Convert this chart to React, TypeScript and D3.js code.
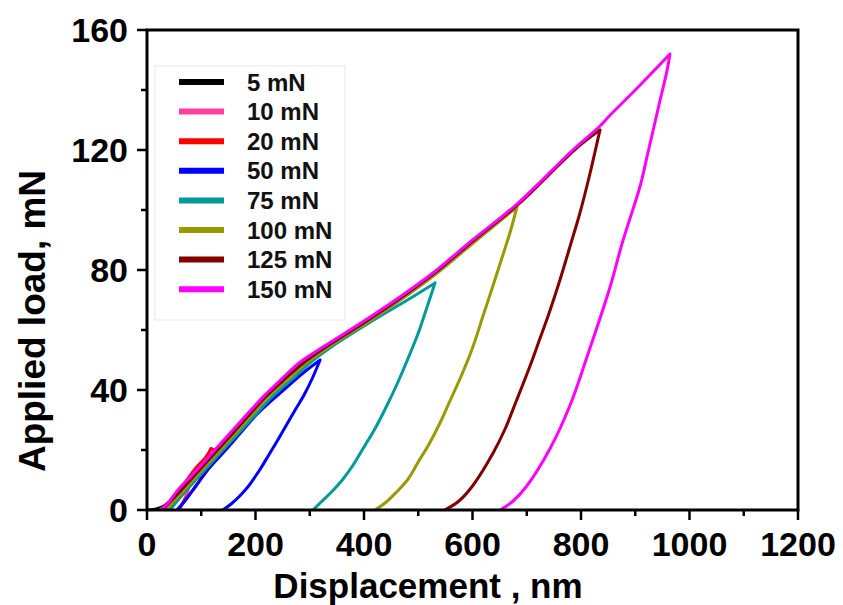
import React from "react";
import * as d3 from "d3";

const X_TICKS = [0, 200, 400, 600, 800, 1000, 1200];
const X_MINOR = [100, 300, 500, 700, 900, 1100];
const Y_TICKS = [0, 40, 80, 120, 160];
const Y_MINOR = [20, 60, 100, 140];

const SERIES_NAMES = ["5 mN", "10 mN", "20 mN", "50 mN", "75 mN", "100 mN", "125 mN", "150 mN"];
const SERIES_COLORS = ["#000000", "#ff3fa0", "#ff0000", "#0000ff", "#009a9a", "#999900", "#800000", "#ff00ff"];

// [displacement nm, load mN] : loading then unloading
const S5: [number, number][] = [[0, 0], [15, 0.3], [30, 1.2], [40, 2.5], [50, 4], [55, 5], [52, 3.5], [47, 1.5], [42, 0]];
const S10: [number, number][] = [[28, 0], [45, 3], [62, 6.5], [80, 10], [77, 7.5], [70, 4], [60, 0]];
const S20: [number, number][] = [[24, 0], [42, 3], [65, 8], [90, 14], [108, 17.5], [118, 20.5], [123, 20], [122, 17], [114, 14], [100, 10.5], [86, 7], [70, 3.5], [58, 0]];
const S50: [number, number][] = [[55, 0], [70, 3], [90, 8], [110, 13], [150, 21], [203, 32], [230, 36.5], [258, 41], [290, 46], [319, 50], [305, 44], [290, 38.5], [272, 33], [256, 28], [240, 23], [225, 18.5], [210, 14], [199, 11], [185, 7.5], [170, 4.5], [155, 2], [140, 0]];
const S75: [number, number][] = [[42, 0], [70, 6], [105, 13], [140, 20], [186, 29], [232, 38], [270, 44], [300, 49], [345, 55], [415, 63], [480, 70], [531, 75.7], [515, 67], [500, 59], [480, 50], [461, 42], [440, 34], [420, 27], [400, 21], [380, 15], [360, 10], [340, 6], [320, 2.5], [306, 0]];
const S100: [number, number][] = [[35, 0], [65, 6], [100, 13], [135, 20], [180, 29], [225, 38], [262, 44], [294, 49], [340, 55], [410, 63], [475, 71], [535, 79], [608, 90], [682, 101], [670, 93], [656, 85], [640, 76], [620, 65], [600, 54], [580, 45], [560, 37], [540, 29], [520, 22], [500, 16], [480, 10], [460, 6], [440, 2.5], [420, 0]];
const S125: [number, number][] = [[28, 0], [60, 6], [95, 13], [130, 20], [175, 29], [220, 38], [256, 44], [288, 49], [335, 55], [405, 63], [470, 71], [530, 79], [603, 90], [685, 102], [788, 120], [835, 126.7], [815, 111], [798, 99], [780, 88], [760, 76], [740, 65], [724, 57], [706, 48], [680, 36], [660, 27], [638, 19], [600, 8], [575, 3], [549, 0]];
const S150: [number, number][] = [[22, 0], [35, 1.5], [57, 6.7], [90, 13], [125, 20], [170, 29], [214, 37.7], [250, 44], [282, 49.3], [330, 55], [400, 63], [466, 71], [527, 79], [600, 90], [682, 102], [785, 120], [835, 128], [853, 131.5], [900, 140], [964, 152], [958, 146], [945, 136], [922, 118], [909, 108], [876, 89], [853, 74], [811, 51], [780, 35], [743, 20.5], [700, 8], [675, 3], [651, 0]];

const SERIES_DATA = [S5, S10, S20, S50, S75, S100, S125, S150];

const FONT = "'Liberation Sans', Arial, Helvetica, sans-serif";

export default function App() {
  const W = 843;
  const H = 605;
  const x = d3.scaleLinear().domain([0, 1200]).range([147, 798]);
  const y = d3.scaleLinear().domain([0, 160]).range([510, 30]);
  const line = d3
    .line<[number, number]>()
    .x((d) => x(d[0]))
    .y((d) => y(d[1]))
    .curve(d3.curveCatmullRom.alpha(0.5));

  const pathFor = (d: [number, number][]) => {
    let k = 0;
    d.forEach((p, i) => {
      if (p[1] > d[k][1]) k = i;
    });
    const loading = d.slice(0, k + 1);
    const unloading = d.slice(k);
    return (line(loading) || "") + (line(unloading) || "");
  };

  const [x0, x1] = x.range();
  const [y0, y1] = y.range();

  return (
    <svg
      width={W}
      height={H}
      viewBox={`0 0 ${W} ${H}`}
      style={{ position: "absolute", left: 0, top: 0, background: "#fff" }}
      fontFamily={FONT}
      fontWeight="bold"
    >
      <rect x={0} y={0} width={W} height={H} fill="#fff" />

      {/* legend */}
      <rect x={155} y={66} width={190} height={254} fill="#fff" stroke="#ececec" strokeWidth={1.2} />
      {SERIES_NAMES.map((name, i) => {
        const ly = 82 + i * 29.6;
        return (
          <g key={name}>
            <line x1={179} x2={224} y1={ly} y2={ly} stroke={SERIES_COLORS[i]} strokeWidth={6} />
            <text x={247} y={ly} dy="0.36em" fontSize={24} fill="#111">
              {name}
            </text>
          </g>
        );
      })}

      {/* curves */}
      <defs>
        <clipPath id="plotclip">
          <rect x={x0} y={y1} width={x1 - x0} height={y0 - y1} />
        </clipPath>
      </defs>
      <g clipPath="url(#plotclip)">
        {SERIES_DATA.map((d, i) => (
          <path
            key={i}
            d={pathFor(d)}
            fill="none"
            stroke={SERIES_COLORS[i]}
            strokeWidth={3}
            strokeLinejoin="round"
            strokeLinecap="round"
          />
        ))}
      </g>

      {/* frame */}
      <rect x={x0} y={y1} width={x1 - x0} height={y0 - y1} fill="none" stroke="#000" strokeWidth={3} />

      {/* x ticks */}
      {X_TICKS.map((t) => (
        <g key={"xt" + t}>
          <line x1={x(t)} x2={x(t)} y1={y0} y2={y0 + 10} stroke="#000" strokeWidth={2.5} />
          <text x={x(t)} y={556} textAnchor="middle" fontSize={34} fill="#000">
            {t}
          </text>
        </g>
      ))}
      {X_MINOR.map((t) => (
        <line key={"xm" + t} x1={x(t)} x2={x(t)} y1={y0} y2={y0 + 6} stroke="#000" strokeWidth={2.5} />
      ))}

      {/* y ticks */}
      {Y_TICKS.map((t) => (
        <g key={"yt" + t}>
          <line x1={x0 - 10} x2={x0} y1={y(t)} y2={y(t)} stroke="#000" strokeWidth={2.5} />
          <text x={128} y={y(t)} dy="0.36em" textAnchor="end" fontSize={34} fill="#000">
            {t}
          </text>
        </g>
      ))}
      {Y_MINOR.map((t) => (
        <line key={"ym" + t} x1={x0 - 6} x2={x0} y1={y(t)} y2={y(t)} stroke="#000" strokeWidth={2.5} />
      ))}

      {/* axis titles */}
      <text x={428} y={598} textAnchor="middle" fontSize={35} fill="#000">
        Displacement , nm
      </text>
      <text
        transform="translate(45,321) rotate(-90)"
        textAnchor="middle"
        fontSize={37}
        fill="#000"
      >
        Applied load, mN
      </text>
    </svg>
  );
}
